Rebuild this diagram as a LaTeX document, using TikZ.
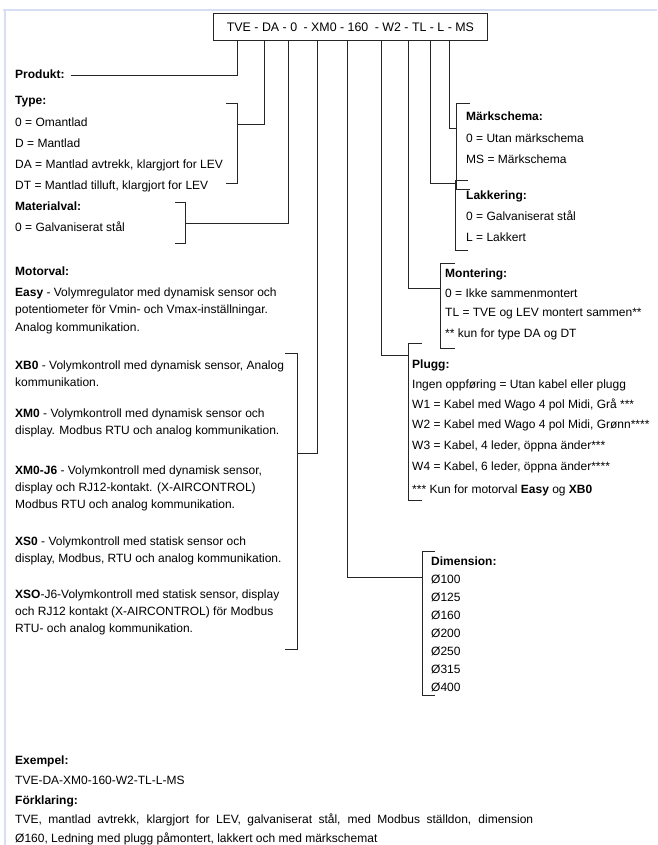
\documentclass[tikz,border=0pt]{standalone}
\usepackage{fontspec}
\setmainfont{Liberation Sans}
\begin{document}
\begin{tikzpicture}[x=1pt,y=-1pt,
  txt/.style={anchor=west,inner sep=0pt,font=\fontsize{12}{14}\selectfont,text height=8.6pt,text depth=2.5pt},
  hd/.style={txt,font=\fontsize{12}{14}\selectfont\bfseries},
  conn/.style={draw=black!85,line width=0.9pt},
  frame/.style={draw={rgb,255:red,214;green,221;blue,245},line width=2.2pt}]
\useasboundingbox (0,0) rectangle (657,845);
\draw[frame] (3,10) -- (657,10);
\draw[frame] (5,9) -- (5,845);
% code box
\node[draw=black!85,line width=0.9pt,minimum width=274pt,minimum height=27pt,inner sep=0pt,anchor=north west,font=\fontsize{12.4}{14}\selectfont] (code) at (213,13) {TVE - DA - 0\hspace{3pt} - XM0 - 160\hspace{3pt} - W2 - TL - L - MS};
\coordinate (c1) at (237,40);
\coordinate (c2) at (264,40);
\coordinate (c3) at (288,40);
\coordinate (c4) at (317,40);
\coordinate (c5) at (347,40);
\coordinate (c6) at (381,40);
\coordinate (c7) at (408,40);
\coordinate (c8) at (430,40);
\coordinate (c9) at (449,40);
% left column
\node[hd] (prod) at (15,75) {Produkt:};
\draw[conn] (prod.east) ++(6,0) coordinate (p0) -- (237,75) coordinate (p1) -- (c1);
\node[hd] (type) at (15,101) {Type:};
\node[txt] (ty1) at (15,123) {0 = Omantlad};
\node[txt] (ty2) at (15,144) {D = Mantlad};
\node[txt] (ty3) at (15,165) {DA = Mantlad avtrekk, klargjort for LEV};
\node[txt] (ty4) at (15,186) {DT = Mantlad tilluft, klargjort for LEV};
\draw[conn] (226,103) -- (237,103) -- (237,183) -- (226,183);
\coordinate (tyj) at (237,124);
\draw[conn] (tyj) -- (264,124) -- (c2);
\node[hd] (mat) at (15,207) {Materialval:};
\node[txt] (mat1) at (15,228) {0 = Galvaniserat stål};
\draw[conn] (175,202) -- (185,202) -- (185,243) -- (175,243);
\coordinate (matj) at (185,223);
\draw[conn] (matj) -- (288,223) -- (c3);
\node[hd] (mot) at (15,272) {Motorval:};
\node[txt] (e1) at (15,293) {\textbf{Easy} - Volymregulator med dynamisk sensor och};
\node[txt] (e2) at (15,310.5) {potentiometer för Vmin- och Vmax-inställningar.};
\node[txt] (e3) at (15,328) {Analog kommunikation.};
\node[txt] (b1) at (15,366) {\textbf{XB0} - Volymkontroll med dynamisk sensor, Analog};
\node[txt] (b2) at (15,383) {kommunikation.};
\node[txt] (m1) at (15,414) {\textbf{XM0} - Volymkontroll med dynamisk sensor och};
\node[txt] (m2) at (15,431) {display. Modbus RTU och analog kommunikation.};
\node[txt] (j1) at (15,471) {\textbf{XM0-J6} - Volymkontroll med dynamisk sensor,};
\node[txt] (j2) at (15,488) {display och RJ12-kontakt. (X-AIRCONTROL)};
\node[txt] (j3) at (15,505) {Modbus RTU och analog kommunikation.};
\node[txt] (s1) at (15,542) {\textbf{XS0} - Volymkontroll med statisk sensor och};
\node[txt] (s2) at (15,559) {display, Modbus, RTU och analog kommunikation.};
\node[txt] (x1) at (15,595) {\textbf{XSO}-J6-Volymkontroll med statisk sensor, display};
\node[txt] (x2) at (15,612) {och RJ12 kontakt (X-AIRCONTROL) för Modbus};
\node[txt] (x3) at (15,629) {RTU- och analog kommunikation.};
\draw[conn] (285,353) -- (297,353) -- (297,649) -- (285,649);
\coordinate (motj) at (297,453);
\draw[conn] (motj) -- (317,453) -- (c4);
% right column
\draw[conn] (470,103) -- (456,103) -- (456,189) -- (470,189);
\coordinate (msj) at (456,128);
\draw[conn] (c9) -- (449,128) -- (msj);
\node[hd] (ms) at (466,117) {Märkschema:};
\node[txt] (ms1) at (466,139) {0 = Utan märkschema};
\node[txt] (ms2) at (466,160) {MS = Märkschema};
\draw[conn] (468,180) -- (455,180) -- (455,250) -- (468,250);
\coordinate (lj) at (455,183);
\draw[conn] (c8) -- (430,183) -- (lj);
\node[hd] (lak) at (466,196) {Lakkering:};
\node[txt] (lak1) at (466,217) {0 = Galvaniserat stål};
\node[txt] (lak2) at (466,238) {L = Lakkert};
\draw[conn] (455,263) -- (440,263) -- (440,348) -- (455,348);
\coordinate (mj) at (440,288);
\draw[conn] (c7) -- (408,288) -- (mj);
\node[hd] (mon) at (445,274) {Montering:};
\node[txt] (mon1) at (445,294) {0 = Ikke sammenmontert};
\node[txt] (mon2) at (445,313) {TL = TVE og LEV montert sammen**};
\node[txt] (mon3) at (445,334) {** kun for type DA og DT};
\draw[conn] (422,343) -- (408,343) -- (408,500) -- (422,500);
\coordinate (pj) at (408,355);
\draw[conn] (c6) -- (381,355) -- (pj);
\node[hd] (pl) at (412,365) {Plugg:};
\node[txt] (pl1) at (412,385) {Ingen oppføring = Utan kabel eller plugg};
\node[txt] (pl2) at (412,405) {W1 = Kabel med Wago 4 pol Midi, Grå ***};
\node[txt] (pl3) at (412,425) {W2 = Kabel med Wago 4 pol Midi, Grønn****};
\node[txt] (pl4) at (412,446) {W3 = Kabel, 4 leder, öppna änder***};
\node[txt] (pl5) at (412,467) {W4 = Kabel, 6 leder, öppna änder****};
\node[txt] (pl6) at (412,490) {*** Kun for motorval \textbf{Easy} og \textbf{XB0}};
\draw[conn] (435,551) -- (422,551) -- (422,695) -- (435,695);
\coordinate (dj) at (422,577);
\draw[conn] (c5) -- (347,577) -- (dj);
\node[hd] (dim) at (431,562) {Dimension:};
\node[txt] (d1) at (431,580) {Ø100};
\node[txt] (d2) at (431,598) {Ø125};
\node[txt] (d3) at (431,616) {Ø160};
\node[txt] (d4) at (431,634) {Ø200};
\node[txt] (d5) at (431,652) {Ø250};
\node[txt] (d6) at (431,670) {Ø315};
\node[txt] (d7) at (431,688) {Ø400};
% bottom
\node[hd] (ex) at (15,761) {Exempel:};
\node[txt] (ex1) at (15,781) {TVE-DA-XM0-160-W2-TL-L-MS};
\node[hd] (fk) at (15,801) {Förklaring:};
\node[txt] (fk1) at (15,820) {\makebox[518pt][s]{TVE, mantlad avtrekk, klargjort for LEV, galvaniserat stål, med Modbus ställdon, dimension}};
\node[txt] (fk2) at (15,839) {Ø160, Ledning med plugg påmontert, lakkert och med märkschemat};
\end{tikzpicture}
\end{document}
